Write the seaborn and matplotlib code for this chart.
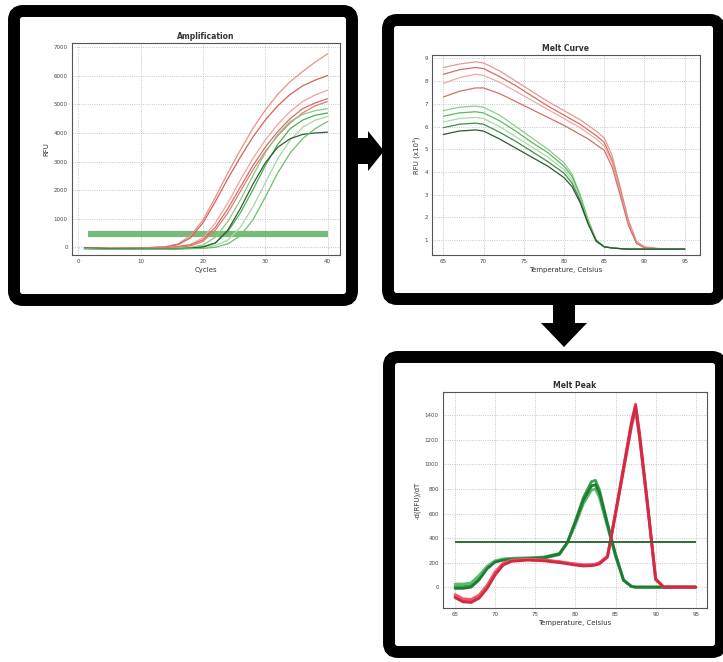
import matplotlib
matplotlib.use("Agg")
import matplotlib.pyplot as plt
import seaborn as sns
import pandas as pd
from matplotlib.patches import FancyBboxPatch, FancyArrow
from matplotlib.ticker import MultipleLocator

# ---- Amplification (RFU vs cycle) ----
cycles = [1, 5, 10, 14, 16, 18, 20, 22, 24, 26, 28, 30, 32, 34, 36, 38, 40]
amp_red_1 = [-20, -40, -30, 20, 120, 400, 950, 1750, 2600, 3400, 4150, 4800, 5350, 5800, 6150, 6480, 6770]
amp_red_2 = [-10, -30, -20, 10, 90, 330, 850, 1600, 2400, 3150, 3850, 4450, 4950, 5350, 5650, 5850, 6010]
amp_red_3 = [-30, -50, -40, -10, 30, 100, 330, 850, 1550, 2350, 3100, 3750, 4300, 4750, 5100, 5330, 5500]
amp_red_4 = [-20, -40, -40, -20, 20, 80, 260, 700, 1350, 2100, 2850, 3500, 4050, 4500, 4850, 5050, 5200]
amp_red_5 = [-30, -50, -50, -30, 0, 50, 200, 600, 1200, 1950, 2700, 3350, 3900, 4350, 4700, 4950, 5100]
amp_green_1 = [-40, -60, -60, -50, -30, 0, 80, 350, 900, 1650, 2500, 3300, 3950, 4400, 4650, 4780, 4850]
amp_green_2 = [-50, -60, -70, -60, -50, -30, 20, 150, 550, 1200, 2000, 2850, 3600, 4150, 4450, 4620, 4700]
amp_green_3 = [-50, -70, -70, -60, -50, -40, -20, 60, 250, 700, 1400, 2250, 3100, 3750, 4200, 4450, 4580]
amp_green_4 = [-30, -50, -60, -60, -50, -30, 10, 150, 600, 1350, 2200, 2950, 3500, 3800, 3950, 4000, 4030]
amp_green_5 = [-50, -70, -70, -70, -60, -50, -40, 0, 120, 400, 950, 1750, 2600, 3300, 3800, 4150, 4400]
amp_threshold = 450

# ---- Melt curve (RFU x10^3 vs temperature) ----
melt_temps = [65, 67, 69, 70, 72, 74, 76, 78, 80, 81, 82, 83, 84, 85, 86, 87, 88, 89, 90, 92, 95]
melt_red_1 = [8.6, 8.75, 8.85, 8.8, 8.45, 8.0, 7.55, 7.1, 6.7, 6.5, 6.3, 6.05, 5.8, 5.5, 4.7, 3.3, 1.9, 0.95, 0.7, 0.62, 0.6]
melt_red_2 = [8.3, 8.5, 8.6, 8.55, 8.2, 7.8, 7.35, 6.9, 6.5, 6.3, 6.1, 5.85, 5.6, 5.3, 4.5, 3.2, 1.8, 0.9, 0.68, 0.6, 0.6]
melt_red_3 = [7.9, 8.15, 8.3, 8.25, 7.95, 7.55, 7.15, 6.75, 6.35, 6.15, 5.95, 5.7, 5.45, 5.15, 4.4, 3.1, 1.75, 0.9, 0.67, 0.6, 0.6]
melt_red_4 = [7.3, 7.55, 7.7, 7.7, 7.45, 7.1, 6.75, 6.4, 6.05, 5.85, 5.65, 5.45, 5.2, 4.95, 4.2, 2.95, 1.65, 0.85, 0.65, 0.6, 0.6]
melt_green_1 = [6.7, 6.85, 6.9, 6.85, 6.5, 6.0, 5.5, 5.0, 4.4, 3.9, 3.0, 1.9, 1.0, 0.7, 0.65, 0.62, 0.6, 0.6, 0.6, 0.6, 0.6]
melt_green_2 = [6.45, 6.6, 6.65, 6.6, 6.25, 5.8, 5.3, 4.85, 4.25, 3.8, 2.95, 1.85, 1.0, 0.7, 0.65, 0.62, 0.6, 0.6, 0.6, 0.6, 0.6]
melt_green_3 = [6.2, 6.35, 6.4, 6.35, 6.0, 5.55, 5.1, 4.65, 4.1, 3.65, 2.85, 1.8, 0.95, 0.7, 0.65, 0.62, 0.6, 0.6, 0.6, 0.6, 0.6]
melt_green_4 = [5.95, 6.1, 6.15, 6.1, 5.75, 5.35, 4.9, 4.45, 3.95, 3.5, 2.75, 1.75, 0.95, 0.7, 0.65, 0.62, 0.6, 0.6, 0.6, 0.6, 0.6]
melt_green_5 = [5.65, 5.8, 5.85, 5.8, 5.45, 5.05, 4.65, 4.25, 3.75, 3.35, 2.65, 1.7, 0.95, 0.7, 0.65, 0.62, 0.6, 0.6, 0.6, 0.6, 0.6]

# ---- Melt peak (-dRFU/dT vs temperature) ----
peak_temps = [65, 66, 67, 68, 69, 70, 71, 72, 74, 76, 78, 79, 80, 81, 82, 82.5, 83, 84, 85, 86, 87, 87.5, 88, 89, 90, 91, 93, 95]
peak_green_1 = [5, 5, 15, 80, 160, 210, 225, 230, 230, 235, 265, 360, 540, 730, 860, 870, 790, 520, 270, 60, 5, 0, 0, 0, 0, 0, 0, 0]
peak_green_2 = [25, 25, 35, 95, 170, 215, 230, 235, 240, 245, 275, 360, 510, 680, 790, 800, 730, 490, 250, 55, 5, 0, 0, 0, 0, 0, 0, 0]
peak_green_3 = [-10, -10, 0, 60, 150, 205, 220, 228, 232, 240, 270, 365, 530, 710, 825, 835, 770, 510, 260, 55, 5, 0, 0, 0, 0, 0, 0, 0]
peak_red_1 = [-75, -110, -115, -80, 0, 110, 185, 215, 225, 220, 205, 195, 185, 178, 180, 185, 195, 250, 610, 980, 1350, 1490, 1250, 680, 70, 0, 0, 0]
peak_red_2 = [-60, -95, -100, -65, 15, 125, 195, 220, 228, 222, 208, 198, 190, 183, 183, 188, 200, 255, 590, 950, 1310, 1440, 1210, 650, 60, 0, 0, 0]
peak_red_3 = [-85, -120, -125, -90, -10, 100, 180, 210, 220, 215, 200, 190, 180, 172, 175, 180, 190, 245, 600, 965, 1330, 1470, 1230, 665, 65, 0, 0, 0]
peak_threshold = 370

W, H = 723, 662
fig = plt.figure(figsize=(W / 100, H / 100), dpi=100)
sns.set_style("white")


def px_axes(left, top, right, bottom):
    # axes placed with pixel coordinates of the reference
    return fig.add_axes([left / W, 1 - bottom / H, (right - left) / W, (bottom - top) / H])


def long_df(x, xname, yname, series):
    d = pd.DataFrame({xname: x, **series})
    return d.melt(id_vars=xname, var_name="well", value_name=yname)


def style_axes(ax, title, xlabel, ylabel):
    ax.set_title(title, fontsize=5.5, fontweight="bold", pad=3, color="#333333")
    ax.set_xlabel(xlabel, fontsize=5, labelpad=2, color="#333333")
    ax.set_ylabel(ylabel, fontsize=5, labelpad=3, color="#333333")
    ax.grid(True, which="major", ls=":", color="#b5b5b5", lw=0.6)
    ax.tick_params(which="major", labelsize=4, length=2.5, width=0.6, direction="in", pad=3, colors="#444444")
    ax.tick_params(which="minor", length=1.5, width=0.5, direction="in", colors="#666666")
    for sp in ax.spines.values():
        sp.set_color("#555555")
        sp.set_linewidth(0.8)


# Amplification
ax1 = px_axes(72, 43, 340, 255)
amp_series = {"r1": amp_red_1, "r2": amp_red_2, "r3": amp_red_3, "r4": amp_red_4, "r5": amp_red_5,
              "g1": amp_green_1, "g2": amp_green_2, "g3": amp_green_3, "g4": amp_green_4, "g5": amp_green_5}
amp_pal = {"r1": "#e8908a", "r2": "#d9605a", "r3": "#f0a39a", "r4": "#cf6f6a", "r5": "#e57a72",
           "g1": "#86c987", "g2": "#4caf50", "g3": "#a5d8a3", "g4": "#2e5e30", "g5": "#6cbf6e"}
ax1.hlines(amp_threshold, cycles[0] + 0.5, cycles[-1], color="#69b36a", lw=4.5, alpha=0.9, zorder=1)
sns.lineplot(data=long_df(cycles, "Cycles", "RFU", amp_series), x="Cycles", y="RFU", hue="well",
             palette=amp_pal, lw=0.9, legend=False, errorbar=None, ax=ax1, zorder=2)
ax1.set_xlim(-1, 42)
ax1.set_ylim(-270, 7150)
ax1.set_xticks([0, 10, 20, 30, 40])
ax1.set_yticks(range(0, 7001, 1000))
ax1.xaxis.set_minor_locator(MultipleLocator(2))
ax1.yaxis.set_minor_locator(MultipleLocator(200))
style_axes(ax1, "Amplification", "Cycles", "RFU")

# Melt curve
ax2 = px_axes(432, 55, 700, 255)
melt_series = {"r1": melt_red_1, "r2": melt_red_2, "r3": melt_red_3, "r4": melt_red_4,
               "g1": melt_green_1, "g2": melt_green_2, "g3": melt_green_3, "g4": melt_green_4, "g5": melt_green_5}
melt_pal = {"r1": "#e59a94", "r2": "#d86b66", "r3": "#eeaaa2", "r4": "#d0706b",
            "g1": "#8ccc8c", "g2": "#5fb862", "g3": "#a9dba7", "g4": "#3f8f45", "g5": "#2c5a2f"}
sns.lineplot(data=long_df(melt_temps, "Temperature", "RFU", melt_series), x="Temperature", y="RFU",
             hue="well", palette=melt_pal, lw=0.9, legend=False, errorbar=None, ax=ax2)
ax2.set_xlim(63.6, 96.9)
ax2.set_ylim(0.34, 9.15)
ax2.set_xticks(range(65, 96, 5))
ax2.set_yticks(range(1, 10))
ax2.xaxis.set_minor_locator(MultipleLocator(1))
ax2.yaxis.set_minor_locator(MultipleLocator(0.5))
style_axes(ax2, "Melt Curve", "Temperature, Celsius", "RFU (x10³)")

# Melt peak
ax3 = px_axes(443, 392, 707, 608)
peak_series = {"g1": peak_green_1, "g2": peak_green_2, "g3": peak_green_3,
               "r1": peak_red_1, "r2": peak_red_2, "r3": peak_red_3}
peak_pal = {"g1": "#37a34c", "g2": "#58bf68", "g3": "#237a35",
            "r1": "#e8344e", "r2": "#f0566c", "r3": "#d22a43"}
sns.lineplot(data=long_df(peak_temps, "Temperature", "dRFU", peak_series), x="Temperature", y="dRFU",
             hue="well", palette=peak_pal, lw=2.0, legend=False, errorbar=None, ax=ax3)
ax3.hlines(peak_threshold, peak_temps[0], peak_temps[-1], color="#2f6b38", lw=1.4, zorder=3)
ax3.set_xlim(63.5, 96.4)
ax3.set_ylim(-170, 1590)
ax3.set_xticks(range(65, 96, 5))
ax3.set_yticks(range(0, 1401, 200))
ax3.xaxis.set_minor_locator(MultipleLocator(1))
ax3.yaxis.set_minor_locator(MultipleLocator(50))
style_axes(ax3, "Melt Peak", "Temperature, Celsius", "-d(RFU)/dT")

# Frames and arrows, in reference pixel coordinates
deco = fig.add_axes([0, 0, 1, 1], zorder=5)
deco.set_xlim(0, W)
deco.set_ylim(H, 0)
deco.axis("off")
for x0, y0, w, h in [(14, 11, 338, 289), (388, 20, 331, 279), (389, 357, 332, 295)]:
    deco.add_patch(FancyBboxPatch((x0, y0), w, h, boxstyle="round,pad=0,rounding_size=9",
                                  lw=8.6, ec="black", fc="none"))
deco.add_patch(FancyArrow(352, 151, 32, 0, width=26, head_width=40, head_length=16,
                          length_includes_head=True, color="black", lw=0))
deco.add_patch(FancyArrow(564, 302, 0, 45, width=22, head_width=46, head_length=24,
                          length_includes_head=True, color="black", lw=0))

fig.savefig("out.png", dpi=100, facecolor="white")
